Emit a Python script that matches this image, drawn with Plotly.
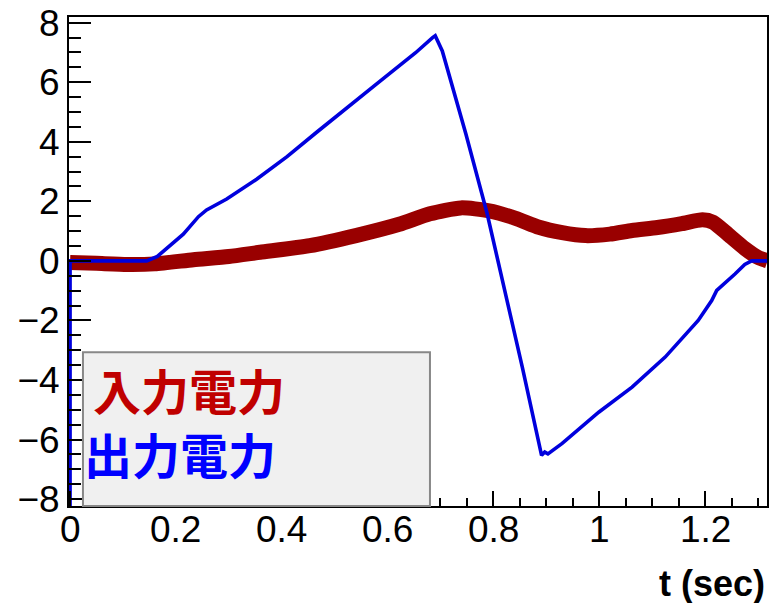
import plotly.graph_objects as go

# Input power (noisy band) and output power vs time
t_in = [0.0, 0.05, 0.108, 0.16, 0.233, 0.30, 0.359, 0.453, 0.54, 0.622, 0.68,
        0.7386, 0.792, 0.842, 0.886, 0.93, 0.974, 1.02, 1.062, 1.11, 1.156,
        1.195, 1.215, 1.244, 1.275, 1.30, 1.318]
p_in = [-0.05, -0.08, -0.12, -0.10, 0.04, 0.15, 0.29, 0.51, 0.85, 1.23, 1.58,
        1.78, 1.68, 1.43, 1.13, 0.95, 0.85, 0.90, 1.02, 1.12, 1.25,
        1.38, 1.30, 0.88, 0.42, 0.12, 0.0]

t_out = [0.0, 0.0, 0.08, 0.145, 0.165, 0.189, 0.214, 0.2426, 0.258, 0.296,
         0.3525, 0.41, 0.466, 0.58, 0.622, 0.653, 0.685, 0.690, 0.7034,
         0.748, 0.788, 0.826, 0.8546, 0.891, 0.897, 0.903, 0.93, 0.999,
         1.062, 1.1246, 1.187, 1.2125, 1.222, 1.2565, 1.275, 1.288, 1.318]
p_out = [-8.6, 0.0, 0.0, 0.0, 0.15, 0.51, 0.90, 1.485, 1.71, 2.08,
         2.74, 3.50, 4.32, 5.95, 6.55, 6.99, 7.50, 7.56, 7.05,
         4.26, 1.60, -1.33, -3.57, -6.53, -6.42, -6.48, -6.13, -5.08,
         -4.24, -3.23, -2.00, -1.33, -0.99, -0.44, -0.12, 0.0, 0.0]

x_ticks = [0, 0.2, 0.4, 0.6, 0.8, 1.0, 1.2]
x_tick_text = ["0", "0.2", "0.4", "0.6", "0.8", "1", "1.2"]
y_ticks = [-8, -6, -4, -2, 0, 2, 4, 6, 8]
x_range = [-0.002, 1.317]
y_range = [-8.23, 8.19]

legend_items = ["入力電力", "出力電力"]
legend_colors = ["#c00000", "#0000ff"]

W, H = 772, 603
L, R, T, B = 69, 769, 16, 506  # plot area in pixels


def px_x(p):
    return (p - L) / (R - L)


def px_y(p):
    return (B - p) / (B - T)


fig = go.Figure()
fig.add_trace(go.Scatter(x=t_in, y=p_in, mode="lines",
                         line=dict(color="#990000", width=15, shape="spline",
                                   smoothing=0.6),
                         showlegend=False))
fig.add_trace(go.Scatter(x=t_out, y=p_out, mode="lines",
                         line=dict(color="#0000dd", width=3.6),
                         showlegend=False))

label_family = "Liberation Sans, Arial, sans-serif"
tick_font = dict(family=label_family, size=37, color="black")

fig.update_xaxes(range=x_range, tickvals=x_ticks, showticklabels=False,
                 showgrid=False, zeroline=False, showline=True,
                 linecolor="black", linewidth=2, mirror=True, ticks="inside",
                 ticklen=15, tickwidth=1.5, tickcolor="black",
                 minor=dict(dtick=0.05, ticks="inside", ticklen=8,
                            tickwidth=1.5, tickcolor="black", showgrid=False))
fig.update_yaxes(range=y_range, tickvals=y_ticks, showgrid=False,
                 zeroline=False, showline=True, linecolor="black",
                 linewidth=2, mirror=True, ticks="inside", ticklen=22,
                 tickwidth=1.5, tickcolor="black", tickfont=tick_font,
                 minor=dict(dtick=0.5, ticks="inside", ticklen=12,
                            tickwidth=1.5, tickcolor="black", showgrid=False))

# x tick labels, placed just under the axis
for xv, txt in zip(x_ticks, x_tick_text):
    fig.add_annotation(x=xv, y=px_y(530), xref="x", yref="paper", text=txt,
                       showarrow=False, xanchor="center", yanchor="middle",
                       font=tick_font)

# Legend panel
fig.add_shape(type="rect", xref="paper", yref="paper",
              x0=px_x(83), x1=px_x(431), y0=px_y(506), y1=px_y(352),
              fillcolor="#f0f0f0", line=dict(color="#888888", width=2),
              layer="above")

cjk_font = "Noto Sans CJK JP, Noto Sans CJK SC, sans-serif"
for text, color, x0, yc in zip(legend_items, legend_colors, [91, 82],
                               [389, 453]):
    fig.add_annotation(x=px_x(x0), y=px_y(yc), xref="paper", yref="paper",
                       text="<b>%s</b>" % text, showarrow=False,
                       xanchor="left", yanchor="middle",
                       font=dict(family=cjk_font, size=48, color=color))

fig.add_annotation(x=px_x(769), y=px_y(584), xref="paper", yref="paper",
                   text="<b>t (sec)</b>", showarrow=False, xanchor="right",
                   yanchor="middle",
                   font=dict(family=label_family, size=36, color="black"))

fig.update_layout(width=W, height=H, plot_bgcolor="white",
                  paper_bgcolor="white",
                  margin=dict(l=L, r=W - R, t=T, b=H - B, pad=0))

fig.write_html("out.html")
